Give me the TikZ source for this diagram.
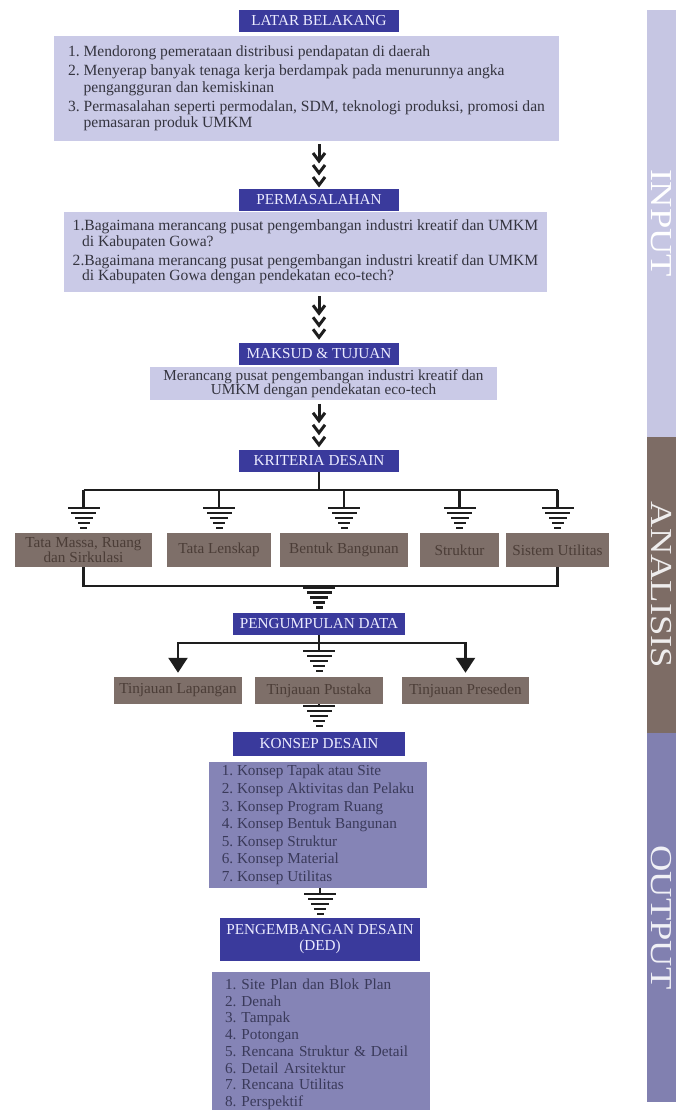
\documentclass[tikz,border=0pt]{standalone}
\usepackage{fontspec}
\setmainfont{Liberation Serif}
\usetikzlibrary{arrows.meta, positioning, calc}
\frenchspacing
\definecolor{hdrblue}{HTML}{3A3A9C}
\definecolor{hdrtext}{HTML}{ECECFF}
\definecolor{lilac}{HTML}{CACAE7}
\definecolor{boxtext}{HTML}{34343F}
\definecolor{taupe}{HTML}{7E6F69}
\definecolor{taupetext}{HTML}{4B3D37}
\definecolor{violet}{HTML}{8584B6}
\definecolor{violettext}{HTML}{3A3A5A}
\definecolor{barin}{HTML}{C6C6E3}
\definecolor{barana}{HTML}{7D6C65}
\definecolor{barout}{HTML}{8180B0}
\definecolor{wirecol}{HTML}{1E1E1E}
\tikzset{
    flowchart/.style={x=0.3mm, y=-0.3mm, font=\fontsize{13}{14}\selectfont},
    header/.style={fill=hdrblue, text=hdrtext, minimum width=48mm, minimum height=6.6mm, inner sep=0pt, align=center},
    listbox/.style={fill=lilac, text=boxtext, inner sep=0pt, align=left},
    critbox/.style={fill=taupe, text=taupetext, minimum height=10.2mm, inner sep=0pt, align=center, font=\fontsize{13}{11}\selectfont},
    reviewbox/.style={critbox, minimum height=8.1mm, minimum width=38.4mm},
    conceptbox/.style={fill=violet, text=violettext, inner sep=0pt, minimum width=65.4mm, align=left},
    phase/.style={minimum height=8.7mm, inner sep=0pt, rotate=-90, font=\fontsize{26}{26}\selectfont},
    wire/.style={draw=wirecol, line width=0.75mm},
    pointer/.style={wire, -{Triangle[length=4.5mm, width=5.7mm]}, shorten >=1.2mm},
    % chevron stack and earth-like stub, used on the connectors
    chevrons/.pic={
        \draw[wirecol, line width=0.9mm] (0,-21) -- (0,-6);
        \foreach \y in {-12,0,12}
            \draw[wirecol, line width=0.9mm] (-6,\y) -- (0,\y+8) -- (6,\y);
    },
    earth/.pic={
        \foreach \w [count=\i from 0] in {16,12.5,9,6,3.5}
            \fill[wirecol] (-\w,\i*5) rectangle (\w,\i*5+2.6);
    },
}

\begin{document}
\begin{tikzpicture}[flowchart]
    \path[use as bounding box, clip] (0,0) rectangle (676,1110);

    \node[header] (lb) at (319,21) {LATAR BELAKANG};
    \node[listbox, minimum width=151.5mm, minimum height=31.5mm, font=\fontsize{13.3}{14.2}\selectfont] (lbtext) at (306.5,88.5)
        {1. Mendorong pemerataan distribusi pendapatan di daerah\\[2pt]
         2. Menyerap banyak tenaga kerja berdampak pada menurunnya angka\\
         \hspace*{1em}pengangguran dan kemiskinan\\[2pt]
         3. Permasalahan seperti permodalan, SDM, teknologi produksi, promosi dan\\
         \hspace*{1em}pemasaran produk UMKM};

    \node[header] (pm) at (319,200) {PERMASALAHAN};
    \node[listbox, minimum width=144.9mm, minimum height=24mm, font=\fontsize{13.3}{13}\selectfont] (pmtext) at (305.5,252)
        {1.Bagaimana merancang pusat pengembangan industri kreatif dan UMKM\\
         \hspace*{0.6em}di Kabupaten Gowa?\\[3.5pt]
         2.Bagaimana merancang pusat pengembangan industri kreatif dan UMKM\\
         \hspace*{0.6em}di Kabupaten Gowa dengan pendekatan eco-tech?};

    \node[header] (mt) at (319,353.5) {MAKSUD \& TUJUAN};
    \node[listbox, align=center, minimum width=104.1mm, minimum height=9.9mm, font=\fontsize{13}{12}\selectfont] (mttext) at (323.5,383.5)
        {Merancang pusat pengembangan industri kreatif dan\\UMKM dengan pendekatan eco-tech};

    \node[header] (kd) at (319,460.5) {KRITERIA DESAIN};
    \node[critbox, minimum width=41.1mm] (tm) at (83.5,550) {Tata Massa, Ruang\\dan Sirkulasi};
    \node[critbox, minimum width=31.2mm] (tl) at (219,550) {Tata Lenskap};
    \node[critbox, minimum width=38.4mm] (bb) at (344,550) {Bentuk Bangunan};
    \node[critbox, minimum width=23.7mm] (st) at (459.5,550) {Struktur};
    \node[critbox, minimum width=30.9mm] (su) at (557.5,550) {Sistem Utilitas};

    \node[header, minimum width=51.6mm] (pd) at (319,624) {PENGUMPULAN DATA};
    \node[reviewbox] (tlap) at (178,690.5) {Tinjauan Lapangan};
    \node[reviewbox] (tpus) at (319,690.5) {Tinjauan Pustaka};
    \node[reviewbox, minimum width=38.1mm] (tpre) at (465.5,690.5) {Tinjauan Preseden};

    \node[header, minimum width=51.6mm, minimum height=7.2mm] (ks) at (319,744) {KONSEP DESAIN};
    \node[conceptbox, minimum height=37.8mm, font=\fontsize{13}{15}\selectfont] (kstext) at (318,825)
        {1. Konsep Tapak atau Site\\2. Konsep Aktivitas dan Pelaku\\3. Konsep Program Ruang\\4. Konsep Bentuk Bangunan\\
         5. Konsep Struktur\\6. Konsep Material\\7. Konsep Utilitas};

    \node[header, minimum width=60mm, minimum height=12.9mm, font=\fontsize{13}{13.6}\selectfont] (ded) at (320,939.5) {PENGEMBANGAN DESAIN\\(DED)};
    \node[conceptbox, anchor=north, inner xsep=3.9mm, inner ysep=2mm, text width=57.6mm, font=\fontsize{13}{14.3}\selectfont] (dedtext) at (321,972)
        {1. Site Plan dan Blok Plan\\2. Denah\\3. Tampak\\4. Potongan\\5. Rencana Struktur \& Detail\\
         6. Detail Arsitektur\\7. Rencana Utilitas\\8. Perspektif};

    \node[phase, fill=barin, text=white, minimum width=128.1mm] (inp) at (661.5,223.5) {\scalebox{1.2}[1]{INPUT}};
    \node[phase, fill=barana, text=white!88!barana, minimum width=88.8mm] (ana) at (661.5,585) {\scalebox{1.2}[1]{ANALISIS}};
    \node[phase, fill=barout, text=white!88!barout, minimum width=110.7mm] (outp) at (661.5,917.5) {\scalebox{1.2}[1]{OUTPUT}};

    \path ($(lbtext.south -| lb)!.5!(pm.north)$) pic{chevrons};
    \path ($(pmtext.south -| pm)!.5!(mt.north)$) pic{chevrons};
    \path ($(mttext.south -| mt)!.5!(kd.north)$) pic{chevrons};

    \coordinate (bus) at (319,490);
    \draw[wire] (kd.south) -- (kd |- bus);
    \draw[wire] (tm |- bus) -- (su |- bus);
    \foreach \n in {tm,tl,bb,st,su}
        \draw[wire] (\n |- bus) -- ([yshift=7.8mm]\n.north) pic{earth};

    \coordinate (merge) at (319,586);
    \draw[wire] (tm.south) |- (merge) -| (su.south);
    \path (merge) pic{earth};

    \coordinate (split) at (319,643);
    \draw[wire] (pd.south) -- (pd |- split);
    \draw[pointer] (split) -| (tlap.north);
    \draw[pointer] (split) -| (tpre.north);
    \draw[wire] (split) -- ([yshift=8.1mm]tpus.north) pic{earth};
    \draw[wire] (tpus.south) -- ([yshift=8.1mm]ks.north) pic{earth};
    \draw[wire] (kstext.south -| ded) -- ([yshift=7.5mm]ded.north) pic{earth};
\end{tikzpicture}
\end{document}
